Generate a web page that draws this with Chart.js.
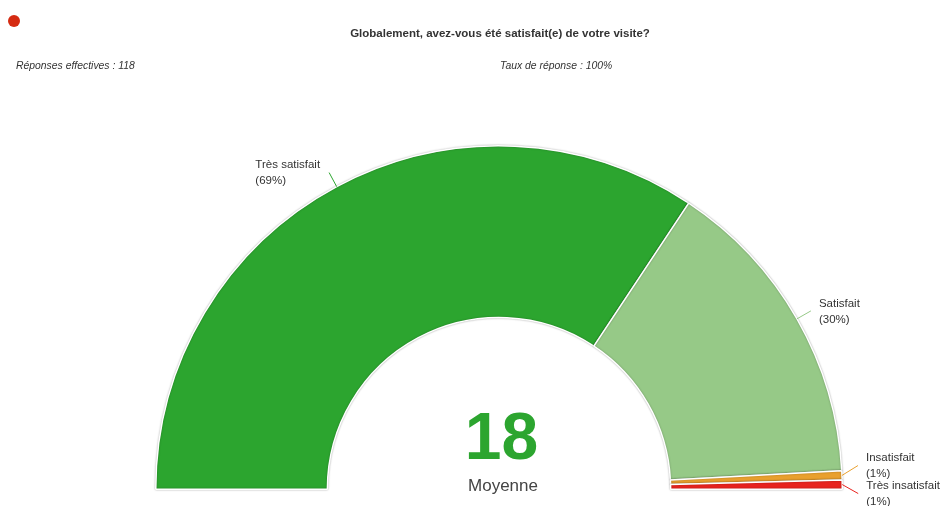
<!DOCTYPE html>
<html>
<head>
<meta charset="utf-8">
<script src="https://cdn.jsdelivr.net/npm/chart.js@4/dist/chart.umd.min.js"></script>
<style>
  body { margin: 0; background: #fff; font-family: "Liberation Sans", Arial, sans-serif; color: #333; }
  #wrap { position: relative; width: 940px; height: 506px; overflow: hidden; }
  #chart { position: absolute; left: 0; top: 0; }
  .dot { position: absolute; left: 8px; top: 15px; width: 12px; height: 12px; border-radius: 50%; background: #d52b12; }
  .title { position: absolute; left: 300px; width: 400px; top: 26px; text-align: center; font-weight: bold; font-size: 11.5px; line-height: 14px; }
  .sub { position: absolute; top: 60px; font-style: italic; font-size: 10.4px; line-height: 12px; }
</style>
</head>
<body>
<div id="wrap">
  <canvas id="chart" width="940" height="506"></canvas>
  <div class="dot"></div>
  <div class="title">Globalement, avez-vous été satisfait(e) de votre visite?</div>
  <div class="sub" style="left:16px">Réponses effectives : 118</div>
  <div class="sub" style="left:500px">Taux de réponse : 100%</div>
</div>
<script>
const labels = ['Très satisfait', 'Satisfait', 'Insatisfait', 'Très insatisfait'];
const values = [81, 35, 1, 1];
const colors = ['#2ca52f', '#96c987', '#e9a02e', '#e8231e'];
const moyenne = 18;
const moyenneLabel = 'Moyenne';

function pct(v) {
  const total = values.reduce((a, b) => a + b, 0);
  return Math.round(v / total * 100) + '%';
}

// push overlapping labels apart, centred on their group mean
function spread(list, gap) {
  list.sort((a, b) => a.ey - b.ey);
  let groups = list.map(it => ({ items: [it], mean: it.ey }));
  let merged = true;
  while (merged) {
    merged = false;
    for (let k = 0; k < groups.length - 1; k++) {
      const a = groups[k], b = groups[k + 1];
      const aBottom = a.mean + (a.items.length - 1) * gap / 2;
      const bTop = b.mean - (b.items.length - 1) * gap / 2;
      if (bTop - aBottom < gap) {
        const items = a.items.concat(b.items);
        const mean = items.reduce((s, it) => s + it.ey, 0) / items.length;
        groups.splice(k, 2, { items, mean });
        merged = true;
        break;
      }
    }
  }
  groups.forEach(g => g.items.forEach((it, j) => {
    it.ly = g.mean + (j - (g.items.length - 1) / 2) * gap;
  }));
}

const outLabels = {
  id: 'outLabels',
  beforeDatasetsDraw(chart) {
    const ctx = chart.ctx;
    ctx.save();
    ctx.shadowColor = 'rgba(0,0,0,0.3)';
    ctx.shadowBlur = 2;
  },
  afterDatasetsDraw(chart) {
    const ctx = chart.ctx;
    ctx.restore();
    const meta = chart.getDatasetMeta(0);
    const items = meta.data.map((arc, i) => {
      const p = arc.getProps(['x', 'y', 'startAngle', 'endAngle', 'outerRadius']);
      const mid = (p.startAngle + p.endAngle) / 2;
      const c = Math.cos(mid), s = Math.sin(mid);
      return {
        i,
        sx: p.x + c * p.outerRadius, sy: p.y + s * p.outerRadius,
        ex: p.x + c * (p.outerRadius + 16), ey: p.y + s * (p.outerRadius + 16),
        right: c >= 0
      };
    });
    spread(items.filter(it => it.right), 28);
    spread(items.filter(it => !it.right), 28);

    ctx.save();
    ctx.font = '11.5px "Liberation Sans", Arial, sans-serif';
    ctx.textBaseline = 'middle';
    ctx.textAlign = 'left';
    items.forEach(it => {
      ctx.strokeStyle = colors[it.i];
      ctx.lineWidth = 1;
      ctx.beginPath();
      ctx.moveTo(it.sx, it.sy);
      ctx.lineTo(it.ex, it.ly);
      ctx.stroke();

      const l1 = labels[it.i];
      const l2 = '(' + pct(values[it.i]) + ')';
      const w = Math.max(ctx.measureText(l1).width, ctx.measureText(l2).width);
      const x = it.right ? it.ex + 8 : it.ex - 9 - w;
      ctx.fillStyle = '#333';
      ctx.fillText(l1, x, it.ly - 7.5);
      ctx.fillText(l2, x, it.ly + 8.5);
    });
    ctx.restore();
  },
  afterDraw(chart) {
    const ctx = chart.ctx;
    const arc = chart.getDatasetMeta(0).data[0];
    const cx = arc.x, cy = arc.y;
    ctx.save();
    ctx.textAlign = 'center';
    ctx.textBaseline = 'alphabetic';
    ctx.fillStyle = colors[0];
    ctx.font = 'bold 66px "Liberation Sans", Arial, sans-serif';
    ctx.fillText(String(moyenne), cx + 2.5, cy - 30);
    ctx.fillStyle = '#444';
    ctx.font = '17px "Liberation Sans", Arial, sans-serif';
    ctx.fillText(moyenneLabel, cx + 4, cy + 2);
    ctx.restore();
  }
};

new Chart(document.getElementById('chart'), {
  type: 'doughnut',
  data: {
    labels,
    datasets: [{
      data: values,
      backgroundColor: colors,
      borderColor: '#fff',
      borderWidth: 1.5
    }]
  },
  options: {
    responsive: false,
    animation: false,
    rotation: -90,
    circumference: 180,
    cutout: '50%',
    layout: { padding: { left: 155, right: 97, top: 145, bottom: 16 } },
    plugins: { legend: { display: false }, tooltip: { enabled: false } }
  },
  plugins: [outLabels]
});
</script>
</body>
</html>
